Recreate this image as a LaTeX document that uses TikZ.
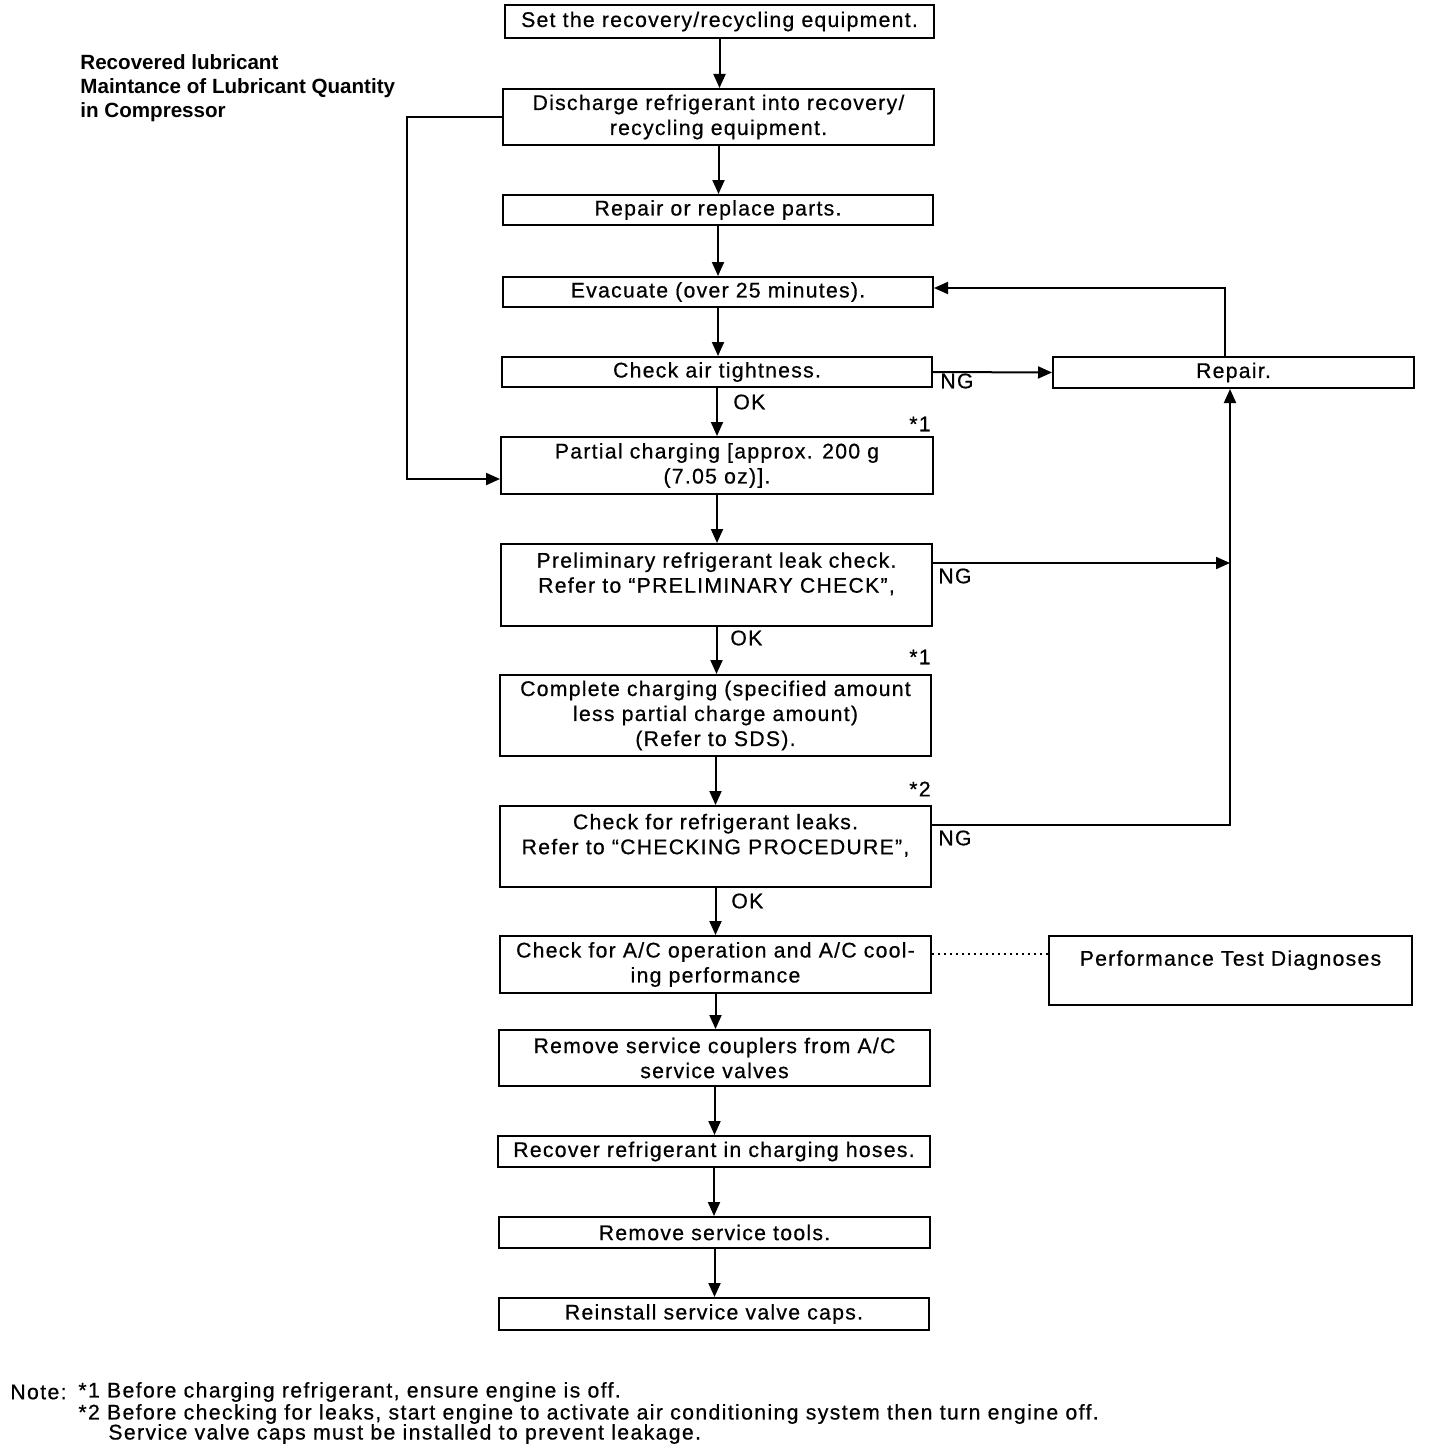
\documentclass[tikz,border=0pt]{standalone}
\usepackage{fontspec}
\setmainfont{Liberation Sans}[LetterSpace=6,FakeBold=0.6]
\newfontfamily\titlefont{Liberation Sans}[]
\newfontfamily\notefont{Liberation Sans}[LetterSpace=6.5,FakeBold=0.6]
\usetikzlibrary{arrows.meta,calc}
\tikzset{
  box/.style={draw, line width=1pt, inner sep=0pt, align=center, font=\fontsize{10.6}{12.5}\selectfont},
  arr/.style={line width=1pt, -{Triangle[length=7pt,width=6pt]}},
  conn/.style={line width=1pt},
  lbl/.style={inner sep=0pt, font=\fontsize{10.6}{12}\selectfont},
  ttl/.style={inner sep=0pt, align=left, font=\titlefont\bfseries\fontsize{10.3}{12}\selectfont},
  notetxt/.style={inner sep=0pt, anchor=west, font=\notefont\fontsize{10.6}{12}\selectfont},
}
\begin{document}
\begin{tikzpicture}[x=0.5pt,y=-0.5pt]
\useasboundingbox[fill=white] (0,0) rectangle (1440,1450);

% title
\node[ttl, anchor=north west] (title) at (80,54) {Recovered lubricant\\Maintance of Lubricant Quantity\\in Compressor};

% main boxes
\node[box, minimum width=214.5pt, minimum height=16.5pt] (b1) at (719.5,21.5) {Set the recovery/recycling equipment.};
\node[box, minimum width=215.5pt, minimum height=28pt] (b2) at (718.5,117) {Discharge refrigerant into recovery/\\recycling equipment.};
\node[box, minimum width=215pt, minimum height=15pt] (b3) at (718,210) {Repair or replace parts.};
\node[box, minimum width=215pt, minimum height=15pt] (b4) at (718,292) {Evacuate (over 25 minutes).};
\node[box, minimum width=215pt, minimum height=15pt] (b5) at (717,372) {Check air tightness.};
\node[box, minimum width=216pt, minimum height=28.5pt] (b6) at (717,465.5) {Partial charging [approx. 200 g\\(7.05 oz)].};
\node[box, minimum width=215.5pt, minimum height=41pt] (b7) at (716.5,585) {Preliminary refrigerant leak check.\\Refer to “PRELIMINARY CHECK”,\\~};
\node[box, minimum width=215.5pt, minimum height=40.5pt] (b8) at (715.5,715.5) {Complete charging (specified amount\\less partial charge amount)\\(Refer to SDS).};
\node[box, minimum width=215.5pt, minimum height=40.5pt] (b9) at (715.5,846.5) {Check for refrigerant leaks.\\Refer to “CHECKING PROCEDURE”,\\~};
\node[box, minimum width=215.5pt, minimum height=28.5pt] (b10) at (715.5,964.5) {Check for A/C operation and A/C cool-\\ing performance};
\node[box, minimum width=215.5pt, minimum height=28pt] (b11) at (714.5,1058) {Remove service couplers from A/C\\service valves};
\node[box, minimum width=216pt, minimum height=15.5pt] (b12) at (714,1151.5) {Recover refrigerant in charging hoses.};
\node[box, minimum width=215.5pt, minimum height=15.5pt] (b13) at (714.5,1232.5) {Remove service tools.};
\node[box, minimum width=215pt, minimum height=16pt] (b14) at (714,1314) {Reinstall service valve caps.};

% side boxes
\node[box, minimum width=180.5pt, minimum height=15.5pt] (rep) at (1233.5,372.5) {Repair.};
\node[box, minimum width=181.5pt, minimum height=34.5pt] (perf) at (1230.5,970.5) {Performance Test Diagnoses\\~};

% vertical flow arrows
\foreach \a/\b in {b1/b2,b2/b3,b3/b4,b4/b5,b5/b6,b6/b7,b7/b8,b8/b9,b9/b10,b10/b11,b11/b12,b12/b13,b13/b14}
  \draw[arr] (\a.south) -- (\a.south |- \b.north);

% left bypass
\coordinate (c1) at (407,117);
\coordinate (c2) at (407,479);
\draw[arr] (b2.west |- c1) -- (c1) -- (c2) -- (c2 -| b6.west);

% NG from air tightness
\draw[arr] (b5.east) -- (rep.west);

% repair back to evacuate
\coordinate (c3) at (1225,288);
\draw[arr] (rep.north -| c3) -- (c3) -- (c3 -| b4.east);

% NG from preliminary check
\coordinate (c4) at (1230,563);
\draw[arr] (b7.east |- c4) -- (c4);

% NG from leak check
\coordinate (c5) at (1230,825);
\draw[arr] (b9.east |- c5) -- (c5) -- (c5 |- rep.south);

% dotted to performance test
\coordinate (c6) at (0,954);
\draw[line width=1pt, dash pattern=on 1pt off 2pt] (b10.east |- c6) -- (perf.west |- c6);

% labels
\node[lbl, anchor=west] (ok1) at (733,402) {OK};
\node[lbl, anchor=west] (ok2) at (730,638) {OK};
\node[lbl, anchor=west] (ok3) at (731,901) {OK};
\node[lbl, anchor=west] (ng1) at (940,381) {NG};
\node[lbl, anchor=west] (ng2) at (938,576) {NG};
\node[lbl, anchor=west] (ng3) at (938,838) {NG};
\node[lbl, anchor=east] (s1) at (931,424) {*1};
\node[lbl, anchor=east] (s2) at (931,657) {*1};
\node[lbl, anchor=east] (s3) at (931,789) {*2};

% notes
\node[notetxt] (n0) at (10,1392) {Note:};
\node[notetxt] (n1) at (78,1392) {*1 Before charging refrigerant, ensure engine is off.};
\node[notetxt] (n2) at (78,1414) {*2 Before checking for leaks, start engine to activate air conditioning system then turn engine off.};
\node[notetxt] (n3) at (108,1434) {Service valve caps must be installed to prevent leakage.};
\end{tikzpicture}
\end{document}
